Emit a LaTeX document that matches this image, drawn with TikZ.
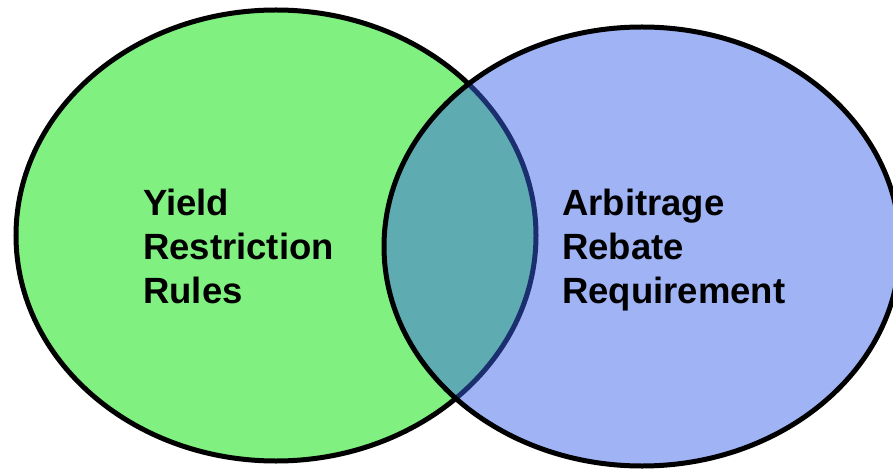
\documentclass[tikz,border=0pt]{standalone}
\usepackage{fontspec}
\setmainfont{Liberation Sans}
\definecolor{yieldgreen}{RGB}{128,240,128}
\definecolor{rebateblue}{RGB}{57,99,234}
\begin{document}
\begin{tikzpicture}[x=1pt,y=-1pt,
  set/.style={draw=black, line width=5pt},
  lbl/.style={font=\fontsize{36.5}{44}\selectfont\bfseries, align=left, anchor=base west, inner sep=0}]
\useasboundingbox (0,0) rectangle (893,470);
\draw[set, fill=yieldgreen] (276,235.5) ellipse (260 and 225.5);
\draw[set, fill=rebateblue, fill opacity=.48] (642,246.5) ellipse (258 and 219.5);
\node[lbl] (yield) at (143,303) {Yield\\Restriction\\Rules};
\node[lbl] (arbitrage) at (562,303) {Arbitrage\\Rebate\\Requirement};
\end{tikzpicture}
\end{document}
